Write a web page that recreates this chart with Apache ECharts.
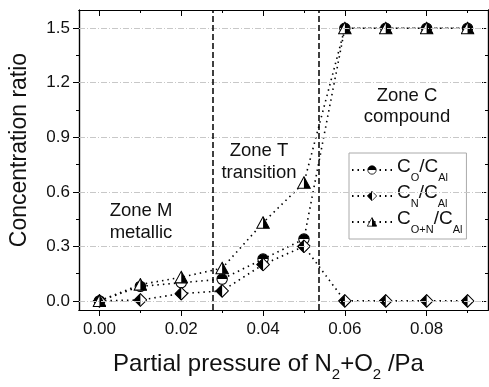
<!DOCTYPE html>
<html>
<head>
<meta charset="utf-8">
<script src="https://cdn.jsdelivr.net/npm/echarts@6/dist/echarts.min.js"></script>
<style>
  html, body { margin: 0; padding: 0; background: #fff; }
  #main { width: 489px; height: 387px; }
</style>
</head>
<body>
<div id="main"></div>
<script>
// data
var pressure = [0, 0.01, 0.02, 0.03, 0.04, 0.05, 0.06, 0.07, 0.08, 0.09];
var ratioO   = [0, 0.08, 0.10, 0.12, 0.23, 0.34, 1.5, 1.5, 1.5, 1.5];
var ratioN   = [0, 0.005, 0.04, 0.055, 0.20, 0.30, 0, 0, 0, 0];
var ratioON  = [0, 0.09, 0.13, 0.18, 0.43, 0.65, 1.5, 1.5, 1.5, 1.5];
var seriesNames = ['CO/CAl', 'CN/CAl', 'CO+N/CAl'];
var zoneBounds = [0.0277, 0.0536];
var xMajor = [0, 0.02, 0.04, 0.06, 0.08];
var xMinor = [0.01, 0.03, 0.05, 0.07, 0.09];
var yMajor = [0, 0.3, 0.6, 0.9, 1.2, 1.5];
var yMinor = [0.15, 0.45, 0.75, 1.05, 1.35];
var X_MIN = -0.005, X_MAX = 0.095, Y_MIN = -0.05, Y_MAX = 1.6;

var FONT = 'Liberation Sans, Arial, sans-serif';

function svgIcon(body) {
  return 'image://data:image/svg+xml;utf8,' + encodeURIComponent(
    '<svg xmlns="http://www.w3.org/2000/svg" width="20" height="20" viewBox="0 0 20 20">' + body + '</svg>');
}
// half filled markers
var circleSym = svgIcon('<circle cx="10" cy="10" r="8" fill="#fff" stroke="#000" stroke-width="1.6"/>' +
  '<path d="M2 10 A8 8 0 0 1 18 10 Z" fill="#000"/>');
var diamondSym = svgIcon('<path d="M10 1 L19 10 L10 19 L1 10 Z" fill="#fff" stroke="#000" stroke-width="1.5"/>' +
  '<path d="M10 1 L10 19 L1 10 Z" fill="#000"/>');
var triSym = svgIcon('<path d="M10 1.5 L19 18 L1 18 Z" fill="#fff" stroke="#000" stroke-width="1.5"/>' +
  '<path d="M10 1.5 L19 18 L10 18 Z" fill="#000"/>');

function pairs(ys) {
  return pressure.map(function (x, i) { return [x, ys[i]]; });
}

// axes: one with labels, the others only for ticks / frame
function xAx(pos, vals, len, inside, labels) {
  return {
    type: 'value', position: pos, min: X_MIN, max: X_MAX,
    axisLine: { show: true, onZero: false, lineStyle: { color: '#000', width: 1.2 } },
    axisTick: { show: true, inside: inside, length: len, customValues: vals, lineStyle: { color: '#000', width: 1 } },
    axisLabel: labels ? {
      show: true, customValues: xMajor, color: '#111', fontSize: 17, fontFamily: FONT, margin: 11,
      formatter: function (v) { return v.toFixed(2); }
    } : { show: false },
    splitLine: { show: false }
  };
}
function yAx(pos, vals, len, inside, labels) {
  return {
    type: 'value', position: pos, min: Y_MIN, max: Y_MAX,
    axisLine: { show: true, onZero: false, lineStyle: { color: '#000', width: 1.2 } },
    axisTick: { show: true, inside: inside, length: len, customValues: vals, lineStyle: { color: '#000', width: 1 } },
    axisLabel: labels ? {
      show: true, customValues: yMajor, color: '#111', fontSize: 17, fontFamily: FONT, margin: 9,
      formatter: function (v) { return v.toFixed(1); }
    } : { show: false },
    splitLine: { show: false }
  };
}

var xAxes = [
  xAx('bottom', xMajor, 6, false, true),
  xAx('bottom', xMinor, 3, false, false),
  xAx('top', xMajor, 6, true, false),
  xAx('top', xMinor, 3, true, false)
];
xAxes[0].name = '{t|Partial pressure of N}{s|2}{t|+O}{s|2}{t| /Pa}';
xAxes[0].nameLocation = 'middle';
xAxes[0].nameGap = 42;
xAxes[0].nameTextStyle = {
  padding: [0, 30, 0, 0],
  rich: {
    t: { fontSize: 24, fontFamily: FONT, color: '#111', lineHeight: 30, verticalAlign: 'top' },
    s: { fontSize: 15, fontFamily: FONT, color: '#111', lineHeight: 30, verticalAlign: 'bottom' }
  }
};

var yAxes = [
  yAx('left', yMajor, 6, false, true),
  yAx('left', yMinor, 3, false, false),
  yAx('right', yMajor, 6, true, false),
  yAx('right', yMinor, 3, true, false)
];
yAxes[0].name = 'Concentration ratio';
yAxes[0].nameLocation = 'middle';
yAxes[0].nameGap = 48;
yAxes[0].nameTextStyle = { fontSize: 23, fontFamily: FONT, color: '#111', padding: [0, 0, 0, 20] };

var lineDots = { color: '#000', width: 1.6, type: [1.5, 4] };

var myChart = echarts.init(document.getElementById('main'), null, { renderer: 'canvas' });

var zoneFont = '18.5px ' + FONT;

var option = {
  backgroundColor: '#fff',
  animation: false,
  grid: { left: 78, right: 1, top: 10, bottom: 70 },
  xAxis: xAxes,
  yAxis: yAxes,
  legend: {
    orient: 'vertical', left: 349, top: 153,
    data: seriesNames,
    backgroundColor: '#fff', borderColor: '#aaa', borderWidth: 1,
    padding: [4, 4, 4, 2], itemGap: 0, itemWidth: 40, itemHeight: 13,
    formatter: function (n) {
      if (n === 'CO/CAl') return '{m|C}{s|O}{m|/C}{s|Al}';
      if (n === 'CN/CAl') return '{m|C}{s|N}{m|/C}{s|Al}';
      return '{m|C}{s|O+N}{m|/C}{s|Al}';
    },
    textStyle: {
      rich: {
        m: { fontSize: 19, fontFamily: FONT, color: '#111', lineHeight: 26, verticalAlign: 'top' },
        s: { fontSize: 11, fontFamily: FONT, color: '#111', lineHeight: 26, verticalAlign: 'bottom' }
      }
    }
  },
  graphic: [
    { type: 'text', x: 141, y: 200, style: { text: 'Zone M\nmetallic', fill: '#111', font: zoneFont, textAlign: 'center', lineHeight: 22 } },
    { type: 'text', x: 259, y: 140, style: { text: 'Zone T\ntransition', fill: '#111', font: zoneFont, textAlign: 'center', lineHeight: 22 } },
    { type: 'text', x: 407, y: 85, style: { text: 'Zone C\ncompound', fill: '#111', font: zoneFont, textAlign: 'center', lineHeight: 21 } }
  ],
  series: [
    {
      // horizontal grid lines
      type: 'line', data: [], z: 1, silent: true,
      markLine: {
        silent: true, symbol: 'none', label: { show: false },
        lineStyle: { color: '#c8c8c8', width: 1, type: [6, 2, 1, 2] },
        data: yMajor.map(function (v) { return [{ coord: [X_MIN, v] }, { coord: [X_MAX, v] }]; })
      }
    },
    {
      // zone boundaries
      type: 'line', data: [], z: 1, silent: true,
      markLine: {
        silent: true, symbol: 'none', label: { show: false },
        lineStyle: { color: '#000', width: 1.5, type: [6, 3] },
        data: zoneBounds.map(function (v) { return [{ coord: [v, Y_MIN] }, { coord: [v, Y_MAX] }]; })
      }
    },
    { name: seriesNames[0], type: 'line', data: pairs(ratioO), symbol: circleSym, symbolSize: 13, lineStyle: lineDots, itemStyle: { color: '#000' }, z: 3 },
    { name: seriesNames[1], type: 'line', data: pairs(ratioN), symbol: diamondSym, symbolSize: 14, lineStyle: lineDots, itemStyle: { color: '#000' }, z: 3 },
    { name: seriesNames[2], type: 'line', data: pairs(ratioON), symbol: triSym, symbolSize: 14, lineStyle: lineDots, itemStyle: { color: '#000' }, z: 3 }
  ]
};

myChart.setOption(option);
</script>
</body>
</html>
